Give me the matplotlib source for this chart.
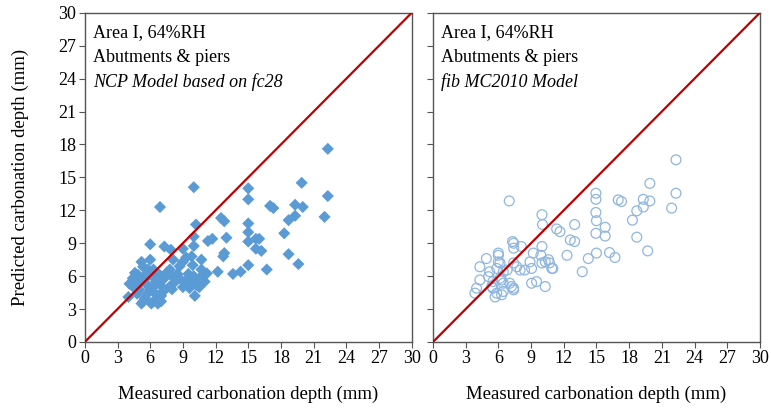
#!/usr/bin/env python3
"""Measured vs predicted carbonation depth, two model panels side by side."""
import matplotlib
matplotlib.use("Agg")
import matplotlib.pyplot as plt

# left panel: NCP model based on fc28 (measured, predicted), mm
ncp_measured = [
    22.3, 10.0, 6.9, 15.0, 15.0, 19.9, 22.3, 22.0, 17.0, 17.3, 19.3, 20.0,
    12.5, 12.8, 10.2, 15.0, 15.0, 19.3, 18.7, 18.3, 10.0, 11.3, 11.7, 13.0,
    15.0, 15.7, 16.0, 6.0, 7.3, 10.0, 9.0, 15.7, 16.2, 12.8, 12.7, 18.7,
    19.6, 16.7, 5.2, 6.0, 9.3, 9.0, 10.7, 8.7, 9.9, 15.0, 12.2, 13.6,
    14.3, 10.8, 10.8, 7.9, 4.1, 4.0, 5.2, 6.1, 6.7, 10.1, 9.8, 8.1,
    7.8, 6.3, 5.7, 4.9, 4.4, 8.7, 9.3, 9.9, 10.5, 11.0, 10.2, 9.6,
    7.3, 6.9, 6.3, 5.7, 5.0, 5.0, 5.8, 6.6, 7.2, 7.8, 8.3, 5.35,
    6.3, 7.0, 4.4, 6.3, 6.7, 5.35, 11.2, 10.7, 4.6, 5.5, 6.0, 6.5,
    7.0, 7.5, 8.0, 8.5, 9.5, 10.0, 4.8, 5.5, 6.0, 7.0, 8.0, 9.0,
    9.5, 10.5, 5.8,
]
ncp_predicted = [
    17.6, 14.1, 12.3, 14.0, 13.0, 14.5, 13.3, 11.4, 12.4, 12.2, 12.5, 12.3,
    11.3, 11.0, 10.7, 10.8, 10.0, 11.5, 11.1, 9.9, 9.6, 9.2, 9.4, 9.5,
    9.15, 9.4, 9.4, 8.9, 8.7, 8.75, 8.5, 8.5, 8.3, 8.1, 7.8, 8.0,
    7.1, 6.6, 7.3, 7.5, 7.7, 7.3, 7.5, 6.9, 7.0, 7.0, 6.4, 6.2,
    6.4, 6.0, 5.5, 8.4, 5.3, 4.1, 3.5, 3.5, 3.5, 4.2, 7.8, 7.5,
    6.6, 6.6, 6.25, 6.1, 5.8, 5.8, 5.5, 5.65, 5.8, 5.5, 5.2, 4.9,
    5.8, 5.2, 5.05, 5.2, 5.35, 4.75, 4.45, 4.3, 4.6, 5.05, 5.5, 3.7,
    3.7, 3.7, 5.05, 5.95, 6.25, 6.85, 6.25, 6.6, 6.3, 5.7, 6.2, 5.5,
    6.0, 6.3, 6.0, 6.2, 6.2, 6.0, 4.4, 4.0, 4.8, 4.2, 4.8, 5.0,
    5.8, 5.0, 6.6,
]

# right panel: fib MC2010 model (measured, predicted), mm
fib_measured = [
    7.0, 10.0, 10.05, 11.35, 11.65, 13.0, 14.95, 14.95, 17.0, 17.3, 14.95, 15.0,
    14.95, 15.8, 15.8, 18.3, 18.7, 19.3, 19.3, 19.9, 19.9, 18.7, 19.7, 22.3,
    22.3, 21.9, 12.6, 13.0, 12.3, 15.0, 14.25, 16.2, 16.7, 13.7, 7.3, 7.4,
    8.1, 10.0, 9.2, 9.9, 10.6, 10.3, 10.7, 11.0, 8.9, 9.05, 8.4, 7.7,
    6.0, 6.0, 4.9, 4.3, 5.2, 5.85, 6.45, 5.1, 6.3, 6.45, 5.5, 4.3,
    4.0, 5.4, 7.2, 7.4, 6.3, 5.85, 9.5, 10.3, 9.05, 3.85, 7.4, 10.0,
    10.9, 6.0, 6.15, 7.4, 8.0, 6.8, 6.15, 7.05, 5.5, 7.4, 5.7, 6.45,
]
fib_predicted = [
    12.85, 11.6, 10.7, 10.3, 10.05, 10.7, 13.55, 13.0, 12.95, 12.8, 11.8, 11.05,
    9.9, 10.45, 9.65, 11.1, 11.95, 12.3, 13.0, 12.85, 14.45, 9.55, 8.3, 16.6,
    13.55, 12.2, 9.3, 9.15, 7.9, 8.1, 7.6, 8.15, 7.7, 6.4, 9.15, 8.55,
    8.7, 8.7, 8.1, 7.9, 7.5, 7.3, 7.2, 6.7, 7.3, 6.7, 6.55, 6.85,
    7.9, 7.3, 7.6, 6.85, 6.4, 6.7, 6.4, 5.95, 5.65, 5.35, 5.5, 5.65,
    4.9, 5.05, 5.05, 4.75, 4.3, 4.45, 5.5, 5.05, 5.35, 4.45, 9.0, 7.2,
    6.7, 8.1, 7.2, 7.2, 6.55, 6.55, 5.8, 5.35, 4.9, 4.9, 4.1, 4.6,
]

ticks = list(range(0, 31, 3))
panel_text = ["Area I, 64%RH", "Abutments & piers"]
model_names = ["NCP Model based on fc28", "fib MC2010 Model"]

plt.rcParams["font.family"] = ["Liberation Serif", "DejaVu Serif"]

fig = plt.figure(figsize=(7.71, 4.12), dpi=100)
ax_l = fig.add_axes([0.110, 0.170, 0.424, 0.799])
ax_r = fig.add_axes([0.5616, 0.170, 0.424, 0.799])

ax_l.scatter(ncp_measured, ncp_predicted, marker="D", s=38, color="#5b9bd5",
             edgecolors="none", zorder=2)
ax_r.scatter(fib_measured, fib_predicted, marker="o", s=50, facecolors="none",
             edgecolors="#8fb6e0", linewidths=0.9, zorder=2)

for ax, name in zip([ax_l, ax_r], model_names):
    ax.plot([0, 30], [0, 30], color="#c00000", linewidth=1.6, zorder=3)
    ax.set_xlim(0, 30)
    ax.set_ylim(0, 30)
    ax.set_xticks(ticks)
    ax.set_yticks(ticks)
    ax.tick_params(direction="out", length=4, width=0.8, color="#555555",
                   labelsize=13, pad=2)
    for sp in ax.spines.values():
        sp.set_color("#555555")
        sp.set_linewidth(1.0)
    ax.set_xlabel("Measured carbonation depth (mm)", fontsize=13.5, labelpad=13)
    ax.text(0.025, 0.94, panel_text[0], transform=ax.transAxes, fontsize=13,
            va="center")
    ax.text(0.025, 0.864, panel_text[1], transform=ax.transAxes, fontsize=13,
            va="center")
    ax.text(0.025, 0.788, name, transform=ax.transAxes, fontsize=13,
            va="center", style="italic")

ax_r.set_yticklabels([])
ax_l.set_ylabel("Predicted carbonation depth (mm)", fontsize=13.5, labelpad=21)

fig.savefig("out.png", dpi=100)
